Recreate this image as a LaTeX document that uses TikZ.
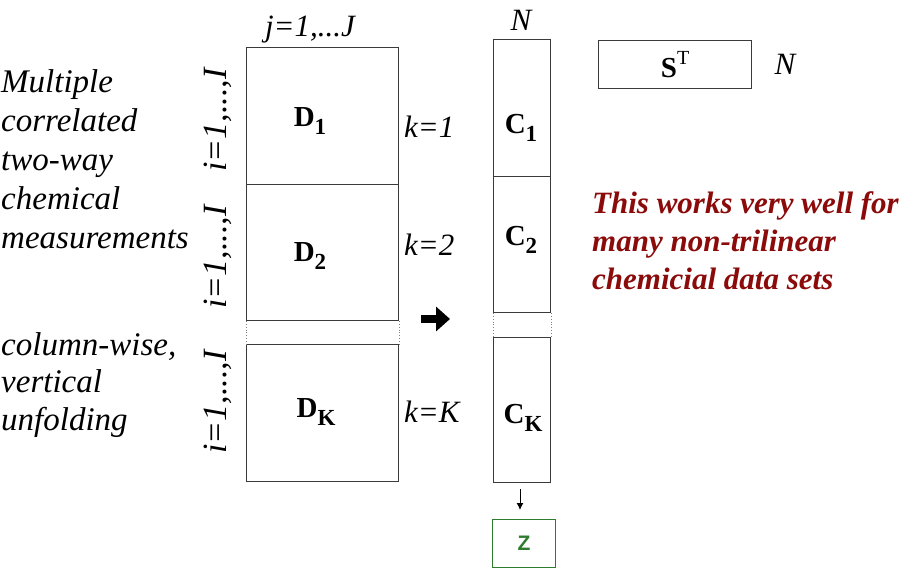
\documentclass[tikz,border=0pt]{standalone}
\usepackage{fontspec}
\setmainfont{Liberation Serif}[
  UprightFont={Liberation Serif},
  BoldFont={Liberation Serif Bold},
  ItalicFont={Liberation Serif Italic},
  BoldItalicFont={Liberation Serif Bold Italic}]
\newfontfamily\zfont{Liberation Sans}
\usetikzlibrary{arrows.meta}
\definecolor{boxgray}{HTML}{3A3A3A}
\definecolor{darkred}{HTML}{8B0A0A}
\definecolor{zgreen}{HTML}{2E7D2E}
\newcommand\mysub[1]{\raisebox{-0.27em}{\fontsize{23}{23}\selectfont #1}}
\newcommand\mysup[1]{\raisebox{0.45em}{\fontsize{20}{20}\selectfont\mdseries #1}}
\begin{document}
\begin{tikzpicture}[x=1pt,y=-1pt,
  blk/.style={draw=boxgray, line width=1.2pt, inner sep=0pt, anchor=north west},
  itl/.style={font=\itshape\fontsize{31}{37}\selectfont, inner sep=0pt},
  bl/.style={font=\bfseries\fontsize{29}{35}\selectfont, inner sep=0pt},
  gap/.style={dotted, gray, line width=0.8pt}]
\useasboundingbox (0,0) rectangle (914,568);

% D stack
\node[blk, minimum width=152pt, minimum height=137pt] (D1) at (246,47) {};
\node[blk, minimum width=152pt, minimum height=136pt] (D2) at (246,184) {};
\node[blk, minimum width=152pt, minimum height=137pt] (DK) at (246,344) {};
\draw[gap] (D2.south west) -- (DK.north west);
\draw[gap] (D2.south east) -- (DK.north east);

% C stack
\node[blk, minimum width=57pt, minimum height=137pt] (C1) at (493,39) {};
\node[blk, minimum width=57pt, minimum height=136pt] (C2) at (493,176) {};
\node[blk, minimum width=57pt, minimum height=145pt] (CK) at (493,337) {};
\draw[gap] (C2.south west) -- (CK.north west);
\draw[gap] (C2.south east) -- (CK.north east);

% S^T box
\node[blk, minimum width=153pt, minimum height=48pt, bl] (S) at (598,40) {S\mysup{T}};
\node[itl] (Nr) at (785,64) {N};

% Z box
\node[blk, draw=zgreen, minimum width=63pt, minimum height=48pt,
      font=\zfont\bfseries\fontsize{21}{24}\selectfont, text=zgreen] (Z) at (492,519) {Z};

% block labels
\node[bl] (lD1) at (310,121) {D\mysub{1}};
\node[bl] (lD2) at (310,256) {D\mysub{2}};
\node[bl] (lDK) at (316,412) {D\mysub{K}};
\node[bl] (lC1) at (521,128) {C\mysub{1}};
\node[bl] (lC2) at (521,240) {C\mysub{2}};
\node[bl] (lCK) at (523,418) {C\mysub{K}};

% index labels
\node[itl] (lj) at (310,30) {j=1,...J};
\node[itl] (lN) at (521,20) {N};
\node[itl, rotate=90, font=\itshape\fontsize{34}{40}\selectfont] (li1) at (218,120) {i=1,...,I};
\node[itl, rotate=90, font=\itshape\fontsize{34}{40}\selectfont] (li2) at (218,257) {i=1,...,I};
\node[itl, rotate=90, font=\itshape\fontsize{34}{40}\selectfont] (li3) at (218,402) {i=1,...,I};
\node[itl, anchor=west] (k1) at (404,127) {k=1};
\node[itl, anchor=west] (k2) at (404,245) {k=2};
\node[itl, anchor=west] (kK) at (404,412) {k=K};

% left texts
\node[itl, anchor=north west, align=left, font=\itshape\fontsize{33}{39}\selectfont] (t1) at (1,69)
  {Multiple\\correlated\\two-way\\chemical\\measurements};
\node[itl, anchor=north west, align=left, font=\itshape\fontsize{33}{37.5}\selectfont] (t2) at (1,332)
  {column-wise,\\vertical\\unfolding};

% red text
\node[anchor=north west, align=left, inner sep=0pt, text=darkred,
      font=\bfseries\itshape\fontsize{31}{38}\selectfont] (t3) at (592,191)
  {This works very well for\\many non-trilinear\\chemicial data sets};

% arrows
\coordinate (a1) at (421,319);
\coordinate (a2) at (450,319);
\draw[line width=8pt, -{Triangle[length=14pt,width=24pt]}] (a1) -- (a2);
\coordinate (d1) at (520,489);
\draw[line width=1pt, -{Latex[length=7pt,width=7pt]}, shorten >=9pt] (d1) -- (d1 |- Z.north);
\end{tikzpicture}
\end{document}
